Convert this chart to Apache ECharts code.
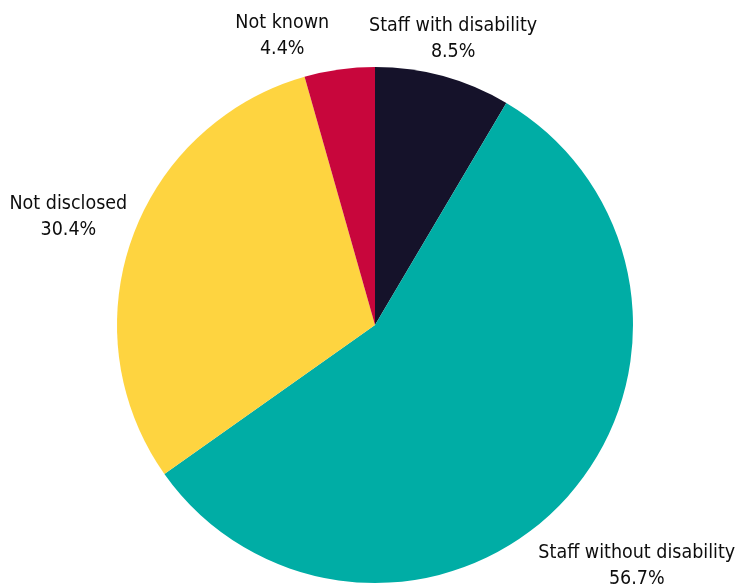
<!DOCTYPE html>
<html>
<head>
<meta charset="utf-8">
<script src="https://cdn.jsdelivr.net/npm/echarts@6/dist/echarts.min.js"></script>
<style>
  html, body { margin: 0; padding: 0; background: #fff; }
  #chart { width: 736px; height: 586px; }
</style>
</head>
<body>
<div id="chart"></div>
<script>
// ---- data ----
const categories = ['Staff with disability', 'Staff without disability', 'Not disclosed', 'Not known'];
const values = [8.5, 56.7, 30.4, 4.4];
const colors = ['#15122A', '#00ADA5', '#FED440', '#C8063C'];

// ---- layout / style ----
const CX = 375, CY = 325, R = 258;
const LABEL_GAP = -1;              // gap between circle and label box
const LABEL_NUDGE = [-8, 9, 4, 3]; // per-label radial fine adjustment (style)
const LABEL_SEP = 40;              // min horizontal separation when labels collide

const total = values.reduce((a, b) => a + b, 0);
const midAngles = [];
{
  let acc = 0;
  values.forEach(v => { midAngles.push((acc + v / 2) / total * 2 * Math.PI); acc += v; });
}

let placed = [];
function layoutLabel(params) {
  const i = params.dataIndex;
  if (i === 0) placed = [];
  const w = params.labelRect.width, h = params.labelRect.height;
  const th = midAngles[i];
  const s = Math.sin(th), c = Math.cos(th);
  const ext = Math.abs(s) * w / 2 + Math.abs(c) * h / 2;
  const d = R + LABEL_GAP + ext + LABEL_NUDGE[i];
  let x = CX + s * d;
  let y = CY - c * d;
  placed.forEach(p => {
    const overlapX = Math.abs(x - p.x) < (w + p.w) / 2;
    const overlapY = Math.abs(y - p.y) < (h + p.h) / 2;
    if (overlapX && overlapY) {
      if (x < p.x) x = p.x - p.w / 2 - LABEL_SEP - w / 2;
      else x = p.x + p.w / 2 + LABEL_SEP + w / 2;
    }
  });
  placed.push({ x, y, w, h });
  return { x, y, align: 'center', verticalAlign: 'middle' };
}

const chart = echarts.init(document.getElementById('chart'), null, { renderer: 'canvas' });
chart.setOption({
  backgroundColor: '#ffffff',
  animation: false,
  series: [{
    type: 'pie',
    center: [CX, CY],
    radius: [0, R],
    startAngle: 90,
    clockwise: true,
    avoidLabelOverlap: false,
    data: categories.map((name, i) => ({ name, value: values[i], itemStyle: { color: colors[i] } })),
    label: {
      show: true,
      position: 'outside',
      formatter: p => p.name + '\n' + p.value.toFixed(1) + '%',
      fontFamily: "'DejaVu Sans Condensed', 'DejaVu Sans', sans-serif",
      fontSize: 19.5,
      lineHeight: 26,
      color: '#0d0d0d',
      align: 'center'
    },
    labelLine: { show: false },
    labelLayout: layoutLabel,
    itemStyle: { borderWidth: 0 },
    emphasis: { disabled: true }
  }]
});
</script>
</body>
</html>
